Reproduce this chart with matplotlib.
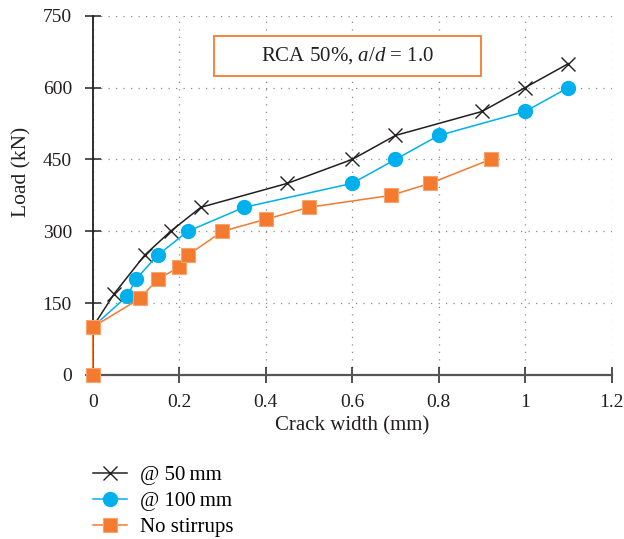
import matplotlib.pyplot as plt
from matplotlib.patches import Rectangle

# --- Data: load vs crack width, RCA 50%, a/d = 1.0 ---
x_50 = [0, 0.05, 0.12, 0.18, 0.25, 0.45, 0.6, 0.7, 0.9, 1.0, 1.1]
y_50 = [100, 170, 250, 300, 350, 400, 450, 500, 550, 600, 650]

x_100 = [0, 0.08, 0.1, 0.15, 0.22, 0.35, 0.6, 0.7, 0.8, 1.0, 1.1]
y_100 = [100, 165, 200, 250, 300, 350, 400, 450, 500, 550, 600]

x_none = [0, 0, 0.11, 0.15, 0.2, 0.22, 0.3, 0.4, 0.5, 0.69, 0.78, 0.92]
y_none = [0, 100, 160, 200, 225, 250, 300, 325, 350, 375, 400, 450]

x_ticks = [0, 0.2, 0.4, 0.6, 0.8, 1, 1.2]
x_labels = ["0", "0.2", "0.4", "0.6", "0.8", "1", "1.2"]
y_ticks = [0, 150, 300, 450, 600, 750]

# --- Fonts ---
plt.rcParams["font.family"] = "Liberation Serif"
plt.rcParams["mathtext.fontset"] = "custom"
plt.rcParams["mathtext.rm"] = "Liberation Serif"
plt.rcParams["mathtext.it"] = "Liberation Serif:italic"

BLACK = "#231f20"
BLUE = "#00b0ec"
ORANGE = "#f47a2f"

fig = plt.figure(figsize=(6.24, 5.39), dpi=100)
ax = fig.add_axes([0.1486, 0.3043, 0.8317, 0.6666])

ax.plot(x_50, y_50, color=BLACK, lw=1.1, marker="x", ms=10, mew=1.0,
        label="@ 50\u2009mm", zorder=3, clip_on=False)
ax.plot(x_100, y_100, color=BLUE, lw=1.1, marker="o", ms=10,
        mec=BLUE, label="@ 100\u2009mm", zorder=4, clip_on=False)
ax.plot(x_none, y_none, color=ORANGE, lw=1.1, marker="s", ms=10,
        mec="#f9a46e", mew=0.8, label="No stirrups", zorder=7, clip_on=False)

ax.set_xlim(0, 1.2)
ax.set_ylim(0, 750)
ax.set_xticks(x_ticks)
ax.set_xticklabels(x_labels)
ax.set_yticks(y_ticks)

ax.grid(True, color="#8a8a8a", linestyle=(0, (1, 5)), linewidth=0.9)
ax.set_axisbelow(True)

for side in ("top", "right"):
    ax.spines[side].set_visible(False)
ax.spines["left"].set_color(BLACK)
ax.spines["left"].set_linewidth(1.3)
ax.spines["bottom"].set_color("#555555")
ax.spines["bottom"].set_linewidth(1.6)
ax.spines["left"].set_zorder(6)

ax.tick_params(axis="both", direction="inout", length=12, width=1.1,
               color=BLACK, labelsize=14, labelcolor=BLACK)
ax.tick_params(axis="x", pad=7.5)
ax.tick_params(axis="y", pad=9)

# axis titles
fig.text(352.2 / 624, 1 - 426 / 539, "Crack width (mm)", fontsize=15,
         color=BLACK, ha="center", va="center")
fig.text(22 / 624, 1 - 172 / 539, "Load (kN)", fontsize=15.5, color=BLACK,
         rotation=90, ha="center", va="center")

# boxed caption inside the plot area
ax.add_patch(Rectangle((0.28, 624), 0.618, 84, fc="white", ec=ORANGE,
                       lw=1.3, zorder=8))
ax.text(0.589, 667, "RCA 50%, $a/d$ = 1.0", fontsize=15, color=BLACK,
        ha="center", va="center", zorder=9)

handles, labels = ax.get_legend_handles_labels()
fig.legend(handles, labels, loc="upper left", bbox_to_anchor=(0.1486, 0.136),
           frameon=False, fontsize=15, handlelength=1.63, handletextpad=0.63,
           labelspacing=0.3, borderaxespad=0, borderpad=0)

fig.savefig("out.png", dpi=100)
